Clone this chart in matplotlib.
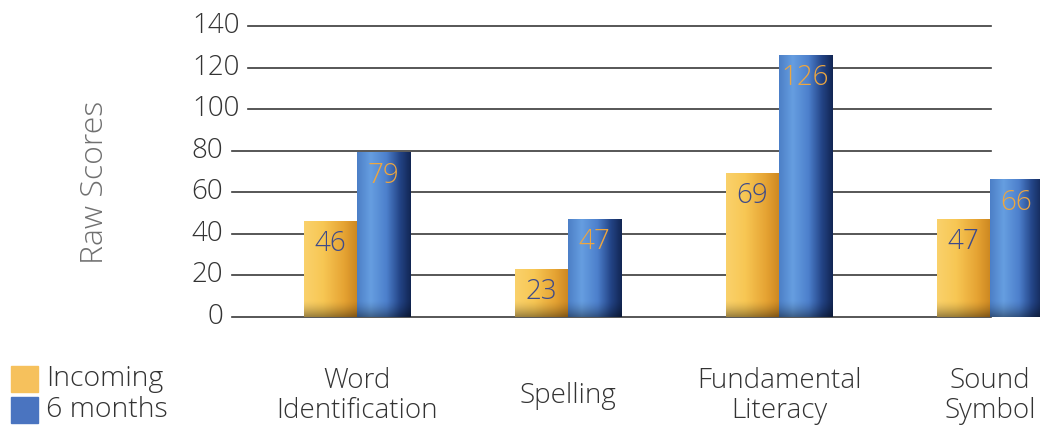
import numpy as np
import matplotlib
matplotlib.use("Agg")
import matplotlib.pyplot as plt
from matplotlib.colors import LinearSegmentedColormap

categories = ["Word\nIdentification", "Spelling", "Fundamental\nLiteracy", "Sound\nSymbol"]
incoming = [46, 23, 69, 47]
six_months = [79, 47, 126, 66]
y_ticks = [0, 20, 40, 60, 80, 100, 120, 140]
legend_labels = ["Incoming", "6 months"]

W, H = 1040, 426
FONT = "Open Sans"
WEIGHT = "light"
TEXT = "#333333"

# horizontal shading stops for the two bar colours (position, rgb)
YELLOW = [(0.0, (0.98, 0.82, 0.42)), (0.35, (0.97, 0.78, 0.33)),
          (0.75, (0.90, 0.64, 0.20)), (1.0, (0.80, 0.53, 0.13))]
BLUE = [(0.0, (0.30, 0.50, 0.78)), (0.25, (0.40, 0.62, 0.88)),
        (0.55, (0.30, 0.50, 0.80)), (0.80, (0.14, 0.27, 0.53)),
        (1.0, (0.07, 0.15, 0.33))]


def px_x(px):
    return px / W


def px_y(py):
    return 1 - py / H


def shaded_bar(ax, x, height, width, stops):
    bar = ax.bar(x, height, width, color="none", edgecolor="none", zorder=3,
                 clip_on=False)[0]
    cmap = LinearSegmentedColormap.from_list("shade", stops)
    cols = cmap(np.linspace(0, 1, 64))[:, :3]
    rows = 200
    img = np.repeat(cols[None, :, :], rows, axis=0)
    # darker band along the foot of the bar, fading out over ~8 units
    y = np.linspace(0, height, rows)
    foot = np.clip(1 - y / 8.0, 0, 1) ** 1.5
    img = img * (1 - 0.38 * foot)[:, None, None]
    im = ax.imshow(img, extent=[x - width / 2, x + width / 2, 0, height],
                   origin="lower", aspect="auto", zorder=3, clip_on=False,
                   interpolation="bilinear")
    im.set_clip_path(bar)
    return bar


fig = plt.figure(figsize=(W / 100, H / 100), dpi=100)
ax = fig.add_axes([px_x(232), px_y(317), px_x(1040 - 232), (317 - 26) / H])

ax.set_xlim(-125 / 211, (1040 - 357) / 211)
ax.set_ylim(0, 140)
ax.axis("off")

ax_w = 1040 - 232
for v in y_ticks:
    start = 248 if v >= 100 else 232
    right = 240 if v >= 100 else 223
    ax.plot([(start - 232) / ax_w, (991 - 232) / ax_w], [v, v],
            transform=ax.get_yaxis_transform(), color="#3a3a3a", lw=1.2,
            zorder=1, clip_on=False)
    ax.text((right - 232) / ax_w, v, str(v), transform=ax.get_yaxis_transform(),
            ha="right", va="center", fontsize=20, family=FONT, weight=WEIGHT,
            color=TEXT, clip_on=False)

bw = 0.252
x = np.arange(len(categories))
for i in range(len(categories)):
    shaded_bar(ax, x[i] - bw / 2, incoming[i], bw, YELLOW)
    shaded_bar(ax, x[i] + bw / 2, six_months[i], bw, BLUE)
    ax.text(x[i] - bw / 2, incoming[i] - 11, str(incoming[i]), ha="center",
            va="center", fontsize=20, family=FONT, weight=WEIGHT,
            color="#3d4a8a", zorder=5)
    ax.text(x[i] + bw / 2, six_months[i] - 11, str(six_months[i]), ha="center",
            va="center", fontsize=20, family=FONT, weight=WEIGHT,
            color="#eda640", zorder=5)

lab_tr = matplotlib.transforms.blended_transform_factory(ax.transData, fig.transFigure)
for i, cat in enumerate(categories):
    ax.text(x[i], px_y(396), cat, transform=lab_tr, ha="center", va="center",
            fontsize=20, family=FONT, weight=WEIGHT, color=TEXT, linespacing=1.1)

fig.text(px_x(95), px_y(182), "Raw Scores", rotation=90, ha="center", va="center",
         fontsize=23, family=FONT, weight=WEIGHT, color="#707070")

# legend swatches and labels
for (cy, label, colour) in [(379, legend_labels[0], "#f6c15c"),
                            (410, legend_labels[1], "#4a74c0")]:
    fig.patches.append(plt.Rectangle((px_x(11), px_y(cy + 13)), px_x(27), 26 / H,
                                     transform=fig.transFigure, color=colour))
    fig.text(px_x(46), px_y(cy), label, ha="left", va="center", fontsize=20.5,
             family=FONT, weight=WEIGHT, color=TEXT)

fig.savefig("out.png", dpi=100, facecolor="white")
